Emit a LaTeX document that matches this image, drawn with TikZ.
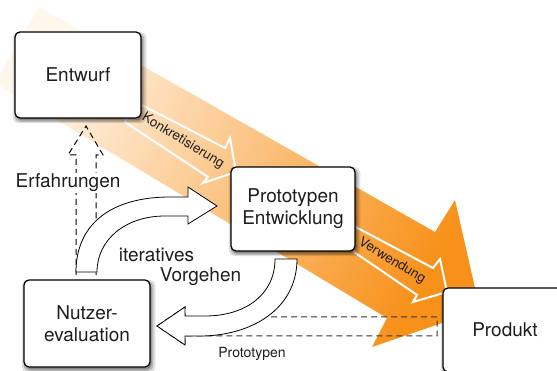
\documentclass[tikz,border=0pt]{standalone}
\usepackage{fontspec}
\setmainfont{TeX Gyre Heros}
\usetikzlibrary{shadows}
\definecolor{bandorange}{RGB}{247,145,25}
\definecolor{bandpeach}{RGB}{249,186,118}
\definecolor{bandpale}{RGB}{255,246,236}
\definecolor{textgray}{RGB}{30,30,30}
\tikzstyle{Phase}=[shape=rectangle, rounded corners=5pt, fill=white, draw=black, line width=1.3pt, text=textgray, align=center, font=\fontsize{19}{22}\selectfont,
	drop shadow={shadow xshift=1.5pt, shadow yshift=-2.5pt, shadow scale=1.06, opacity=0.12, fill=black},
	drop shadow={shadow xshift=1.5pt, shadow yshift=-2.5pt, shadow scale=1.03, opacity=0.18, fill=black},
	drop shadow={shadow xshift=1.5pt, shadow yshift=-2.5pt, opacity=0.25, fill=black}]
\tikzstyle{Flow}=[draw=white, line width=2pt]
\tikzstyle{Loop}=[draw=black, fill=white, line width=0.8pt]
\tikzstyle{Feedback}=[draw=black, line width=1pt, dash pattern=on 6pt off 4pt]
\tikzstyle{Label}=[text=textgray, font=\fontsize{19}{22}\selectfont]
\tikzstyle{SmallLabel}=[text=textgray, font=\fontsize{13.5}{16}\selectfont]
\pgfdeclarelayer{bandlayer}
\pgfdeclarelayer{arrowlayer}
\pgfsetlayers{bandlayer,arrowlayer,main}

\begin{document}
\begin{tikzpicture}[x=1pt, y=1pt]
	\useasboundingbox (0,0) rectangle (557,-371);
	\begin{pgfonlayer}{bandlayer}
		% main direction
		\shade [left color=bandpale, middle color=bandpeach, right color=bandorange, shading angle=60.5] (39,-7) -- (435,-232) -- (455,-200) -- (480,-310) -- (372,-347) -- (387,-318) -- (-5,-83) -- cycle;
		\draw [style=Flow] (134,-101) -- (225,-148) -- (230,-138) -- (236,-172) -- (203,-183) -- (208,-177) -- (125,-122) -- cycle;
		\draw [style=Flow] (350,-224) -- (433,-268) -- (440,-259) -- (447,-292) -- (413,-302) -- (417,-295) -- (354,-252) -- cycle;
		\node [style=SmallLabel, rotate=-31] (konkret) at (183,-141) {Konkretisierung};
		\node [style=SmallLabel, rotate=-31] (verwend) at (392,-261) {Verwendung};
	\end{pgfonlayer}
	\begin{pgfonlayer}{arrowlayer}
		% feedback
		\draw [style=Feedback] (76,-275) -- (76,-155) -- (68,-155) -- (86,-126) -- (103,-155) -- (96,-155) -- (96,-275);
		\draw [style=Feedback, draw=black!80] (437,-317) -- (185,-317) -- (185,-307) -- (157,-326) -- (185,-345) -- (185,-336) -- (437,-336) -- cycle;
		% iterative loop
		\draw [style=Loop] (76,-272) .. controls (76,-225) and (110,-197) .. (170,-197) -- (188,-197) -- (188,-187) -- (217,-206) -- (188,-224) -- (188,-216) -- (165,-216) .. controls (125,-216) and (97,-240) .. (97,-272) -- cycle;
		\draw [style=Loop] (275,-259) -- (297,-259) .. controls (297,-310) and (250,-336) .. (200,-336) -- (185,-336) -- (185,-345) -- (157,-326) -- (185,-307) -- (185,-316) -- (205,-316) .. controls (245,-316) and (275,-295) .. (275,-259) -- cycle;
	\end{pgfonlayer}
	\node [style=Phase, minimum width=126pt, minimum height=86pt] (entwurf) at (78,-75) {Entwurf};
	\node [style=Phase, minimum width=124pt, minimum height=84pt] (proto) at (293,-209) {Prototypen\\Entwicklung};
	\node [style=Phase, minimum width=126pt, minimum height=87pt] (nutzer) at (87,-323.5) {Nutzer-\\evaluation};
	\node [style=Phase, minimum width=124pt, minimum height=84pt] (produkt) at (505,-330) {Produkt};
	% labels
	\node [style=Label, fill=white, inner sep=1pt] (erfahrung) at (68,-183) {Erfahrungen};
	\node [style=Label] (iterativ) at (156.5,-255) {iteratives};
	\node [style=Label] (vorgehen) at (200.5,-277) {Vorgehen};
	\node [style=SmallLabel, font=\fontsize{14}{16}\selectfont] (prototypen) at (252,-354) {Prototypen};
\end{tikzpicture}
\end{document}
